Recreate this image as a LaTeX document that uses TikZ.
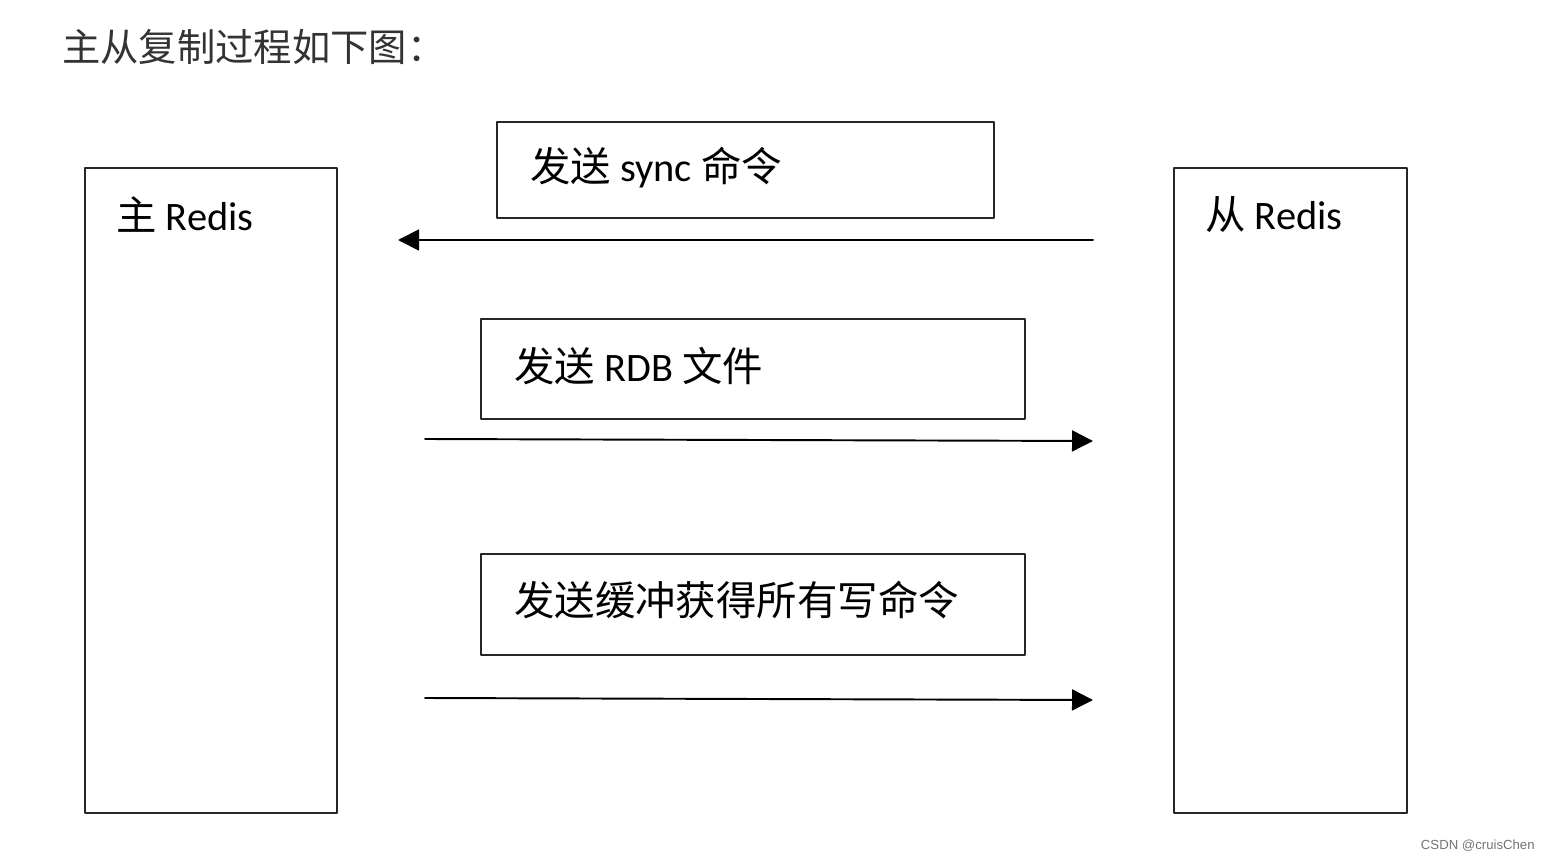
\documentclass[tikz,border=0pt]{standalone}
\usepackage{fontspec}
\setmainfont{Carlito}
\newfontfamily\cjk{Noto Sans CJK SC}
\newfontfamily\wmfont{Liberation Sans}
\usetikzlibrary{arrows.meta}

\begin{document}
\begin{tikzpicture}[x=0.02cm,y=-0.02cm,line cap=round,line join=round,
  box/.style={draw=black!85,line width=1.1pt},
  msg/.style={line width=1.1pt,draw=black,-{Triangle[length=4.2mm,width=4.2mm]}},
  lbl/.style={anchor=west,inner sep=0pt,font=\fontsize{23pt}{26pt}\selectfont}]
  \useasboundingbox (0,0) rectangle (1551,861);
  \node[anchor=west,inner sep=0pt,text=black!80,font=\cjk\fontsize{21.8pt}{26pt}\selectfont] (title) at (62,47) {主从复制过程如下图：};
  % master and slave
  \draw[box] (85,168) rectangle (337,813);
  \draw[box] (1174,168) rectangle (1407,813);
  \node[lbl] (master) at (116,215) {{\cjk 主} Redis};
  \node[lbl] (slave) at (1205,215) {{\cjk 从} Redis};
  % messages
  \draw[box] (497,122) rectangle (994,218);
  \node[lbl] (sync) at (530,168) {{\cjk 发送} sync {\cjk 命令}};
  \draw[box] (481,319) rectangle (1025,419);
  \node[lbl] (rdb) at (514,366) {{\cjk 发送} RDB {\cjk 文件}};
  \draw[box] (481,554) rectangle (1025,655);
  \node[lbl] (buf) at (514,600) {\cjk 发送缓冲获得所有写命令};
  \coordinate (a1s) at (1093,240);
  \coordinate (a1e) at (398,240);
  \coordinate (a2s) at (425,439);
  \coordinate (a2e) at (1093,441);
  \coordinate (a3s) at (425,698);
  \coordinate (a3e) at (1093,700);
  \draw[msg] (a1s) -- (a1e);
  \draw[msg] (a2s) -- (a2e);
  \draw[msg] (a3s) -- (a3e);
  \node[anchor=east,inner sep=0pt,text=black!55,font=\wmfont\fontsize{7.5pt}{9pt}\selectfont] (mark) at (1535,846) {CSDN @cruisChen};
\end{tikzpicture}
\end{document}
